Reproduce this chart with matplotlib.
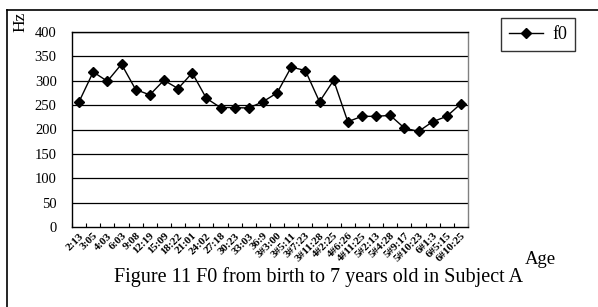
import matplotlib
matplotlib.use("Agg")
import matplotlib.pyplot as plt
import matplotlib.transforms as mtransforms
from matplotlib.lines import Line2D

plt.rcParams['font.family'] = ['Liberation Serif', 'DejaVu Serif']

ages = ["2:13", "3:05", "4:03", "6:03", "9:08", "12:19", "15:09", "18:22", "21:01",
        "24:02", "27:18", "30:23", "33:03", "36:9", "3#3:00", "3#5:11", "3#7:23",
        "3#11:28", "4#2:25", "4#6:26", "4#11:25", "5#2:13", "5#4:28", "5#9:17",
        "5#10:23", "6#1:3", "6#5:15", "6#10:25"]
f0 = [257, 318, 299, 334, 282, 271, 301, 284, 316, 264, 245, 245, 244, 257,
      275, 328, 321, 257, 301, 216, 227, 227, 229, 203, 196, 216, 227, 253]
yticks = [0, 50, 100, 150, 200, 250, 300, 350, 400]

W, H = 598, 307
fig = plt.figure(figsize=(W / 100, H / 100), dpi=100)
ax = fig.add_axes([72 / W, 1 - 227 / H, 396 / W, 195 / H])

x = list(range(len(f0)))
ax.plot(x, f0, color='black', lw=1.0, marker='D', markersize=5.5,
        markerfacecolor='black', markeredgecolor='black')
ax.set_xlim(-0.5, len(f0) - 0.5)
ax.set_ylim(0, 400)
ax.set_yticks(yticks)
ax.set_yticklabels([str(v) for v in yticks], fontsize=10.5)
for v in yticks[1:]:
    ax.axhline(v, color='black', lw=0.9, zorder=0)

ax.set_xticks([i - 0.5 for i in range(len(f0) + 1)], minor=False)
ax.set_xticklabels([""] * (len(f0) + 1))
ax.set_xticks(x, minor=True)
ax.set_xticklabels(ages, minor=True, rotation=45, ha='right', va='top',
                   rotation_mode='anchor', fontsize=8, fontweight='bold')
shift = mtransforms.ScaledTranslation(-16 / 100, 0, fig.dpi_scale_trans)
for lbl in ax.get_xticklabels(minor=True):
    lbl.set_transform(lbl.get_transform() + shift)
ax.tick_params(axis='x', which='major', direction='in', length=3, width=0.8)
ax.tick_params(axis='x', which='minor', length=0, pad=3)
ax.tick_params(axis='y', length=0, pad=11)

for s in ['left', 'bottom', 'top']:
    ax.spines[s].set_color('black')
    ax.spines[s].set_linewidth(1.0)
ax.spines['right'].set_color('#808080')
ax.spines['right'].set_linewidth(1.0)

# legend box
leg_handle = Line2D([0], [0], color='black', lw=1.0, marker='D', markersize=5.5)
leg = fig.legend([leg_handle], ['f0'], loc='upper left',
                 bbox_to_anchor=(501 / W, 1 - 18 / H), frameon=True,
                 fancybox=False, edgecolor='black', fontsize=13,
                 handlelength=1.9, borderpad=0.45, borderaxespad=0,
                 handletextpad=0.5)
leg.get_frame().set_linewidth(1.0)

fig.text(20 / W, 1 - 22 / H, "Hz", rotation=90, ha='center', va='center', fontsize=12.5)
fig.text(540 / W, 1 - 260 / H, "Age", ha='center', va='center', fontsize=13.5)
fig.text(318 / W, 1 - 277 / H, "Figure 11 F0 from birth to 7 years old in Subject A",
         ha='center', va='center', fontsize=14.5)

# outer border (top and left visible)
fig.add_artist(Line2D([7 / W, 7 / W], [0, 1 - 10 / H], color='black', lw=1.2,
                      transform=fig.transFigure))
fig.add_artist(Line2D([7 / W, 1], [1 - 10 / H, 1 - 10 / H], color='black', lw=1.2,
                      transform=fig.transFigure))

fig.savefig("out.png", dpi=100, facecolor='white')
